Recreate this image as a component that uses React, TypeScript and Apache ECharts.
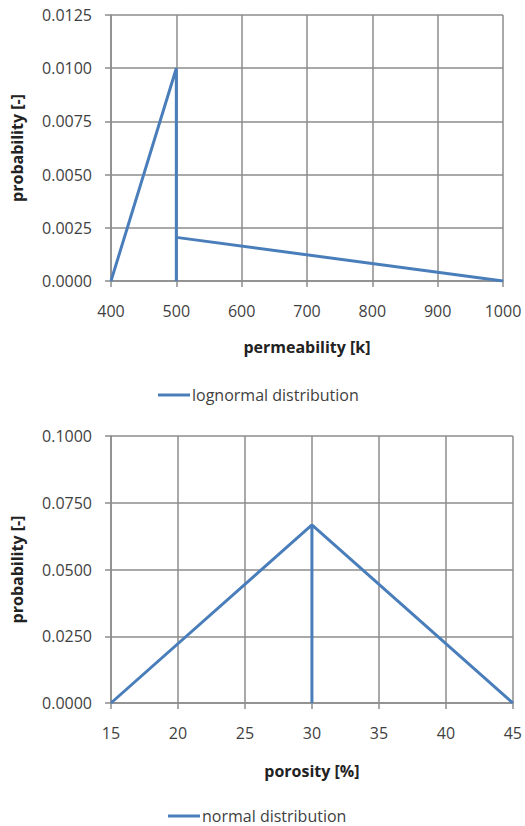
import React, { useEffect, useRef } from "react";
import * as echarts from "echarts";

const permX = [400, 500, 500, 500, 1000];
const permY = [0, 0.01, 0, 0.00205, 0];
const porX = [15, 30, 30, 30, 45];
const porY = [0, 0.0667, 0, 0.0667, 0];
const seriesNames = ["lognormal distribution", "normal distribution"];
const axisNames = { permX: "permeability [k]", porX: "porosity [%]", y: "probability [-]" };

const FONT = "'Open Sans', 'Noto Sans', sans-serif";
const BLUE = "#4a7ebb";
const GRID = "#8c8c8c";
const TXT = "#3f3f3f";

export default function App() {
  const ref = useRef<HTMLDivElement>(null);
  useEffect(() => {
    const chart = echarts.init(ref.current!, null, { renderer: "svg" });
    const xAxisCommon = (name: string, gridIndex: number, min: number, max: number, interval: number, gap: number) => ({
      type: "value",
      gridIndex,
      min,
      max,
      interval,
      name,
      nameLocation: "middle",
      nameGap: gap,
      nameTextStyle: { fontFamily: FONT, fontWeight: "bold", fontSize: 16, color: "#222" },
      axisLine: { show: true, lineStyle: { color: GRID, width: 1.5 } },
      axisTick: { show: true, length: 6, lineStyle: { color: GRID, width: 1.5 } },
      axisLabel: {
        fontFamily: FONT,
        fontSize: 16,
        color: TXT,
        margin: 22,
        formatter: (v: number) => String(v),
      },
      splitLine: { show: true, lineStyle: { color: GRID, width: 1.5 } },
    });
    const yAxisCommon = (gridIndex: number, max: number, interval: number) => ({
      type: "value",
      gridIndex,
      min: 0,
      max,
      interval,
      name: axisNames.y,
      nameLocation: "middle",
      nameGap: 86,
      nameTextStyle: { fontFamily: FONT, fontWeight: "bold", fontSize: 16, color: "#222" },
      axisLine: { show: true, lineStyle: { color: GRID, width: 1.5 } },
      axisTick: { show: true, length: 6, lineStyle: { color: GRID, width: 1.5 } },
      axisLabel: {
        fontFamily: FONT,
        fontSize: 16,
        color: TXT,
        margin: 19,
        formatter: (v: number) => v.toFixed(4),
      },
      splitLine: { show: true, lineStyle: { color: GRID, width: 1.5 } },
    });
    const legendText = { fontFamily: FONT, fontSize: 16, lineHeight: 16, color: TXT, padding: [0, 0, 0, -3] };
    chart.setOption({
      animation: false,
      backgroundColor: "#ffffff",
      grid: [
        { left: 111, right: 22, top: 15, height: 266 },
        { left: 111, right: 12, top: 436, height: 267 },
      ],
      xAxis: [
        xAxisCommon(axisNames.permX, 0, 400, 1000, 100, 58),
        xAxisCommon(axisNames.porX, 1, 15, 45, 5, 60),
      ],
      yAxis: [yAxisCommon(0, 0.0125, 0.0025), yAxisCommon(1, 0.1, 0.025)],
      legend: [
        {
          data: [seriesNames[0]],
          left: 153,
          top: 382,
          icon: "rect",
          itemWidth: 32,
          itemHeight: 3,
          textStyle: legendText,
        },
        {
          data: [seriesNames[1]],
          left: 163,
          top: 803,
          icon: "rect",
          itemWidth: 32,
          itemHeight: 3,
          textStyle: legendText,
        },
      ],
      series: [
        {
          name: seriesNames[0],
          type: "line",
          xAxisIndex: 0,
          yAxisIndex: 0,
          symbol: "none",
          lineStyle: { color: BLUE, width: 3 },
          itemStyle: { color: BLUE },
          data: permX.map((x, i) => [x, permY[i]]),
        },
        {
          name: seriesNames[1],
          type: "line",
          xAxisIndex: 1,
          yAxisIndex: 1,
          symbol: "none",
          lineStyle: { color: BLUE, width: 3 },
          itemStyle: { color: BLUE },
          data: porX.map((x, i) => [x, porY[i]]),
        },
      ],
    });
    return () => chart.dispose();
  }, []);
  return (
    <div
      ref={ref}
      style={{ position: "absolute", left: 0, top: 0, width: 525, height: 826 }}
    />
  );
}
